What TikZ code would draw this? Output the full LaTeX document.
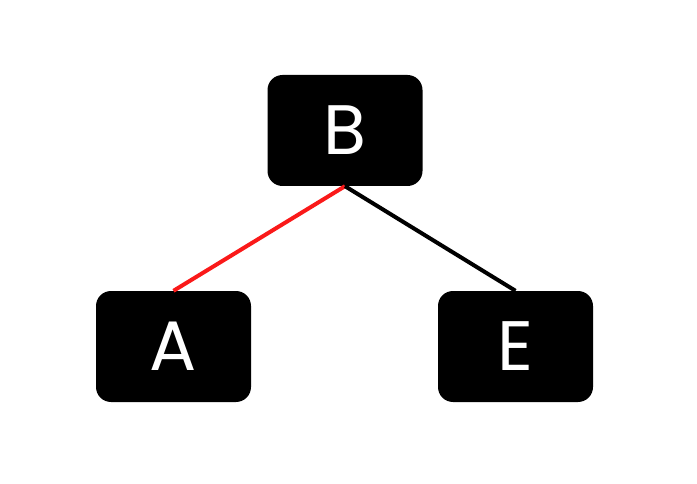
\documentclass[tikz,border=0pt]{standalone}
\usepackage{fontspec}
\setmainfont{Poppins}
\usepackage{xcolor}
\usepackage{tikz}
\usetikzlibrary{arrows.meta, calc}
\definecolor{edgeRed}{rgb}{0.98, 0.1, 0.1}
\tikzset{
  treenode/.style={fill=black, text=white, rounded corners=15pt, inner sep=0pt,
    minimum width=155pt, minimum height=111pt, font=\fontsize{70}{70}\selectfont},
  treeedge/.style={line width=4pt}
}

\begin{document}
\begin{tikzpicture}[x=1pt, y=-1pt]
  \useasboundingbox (0,0) rectangle (697,484);

  \node[treenode] (B) at (345,130.5) {B};
  \node[treenode] (A) at (173.5,346.5) {A};
  \node[treenode] (E) at (515.5,346.5) {E};

  \draw[treeedge, edgeRed] (B.south) -- (A.north);
  \draw[treeedge, black] (B.south) -- (E.north);

\end{tikzpicture}
\end{document}
